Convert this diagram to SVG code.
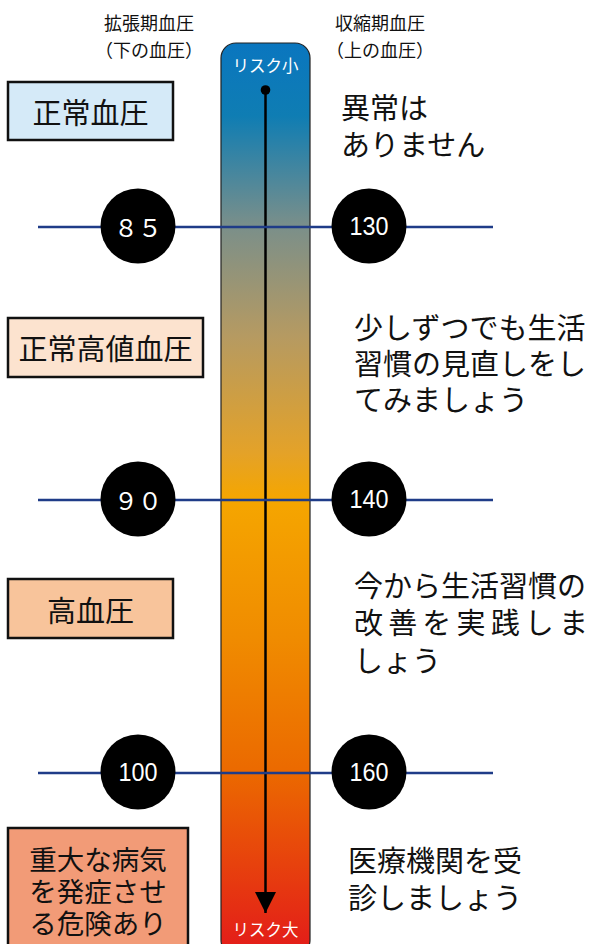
<svg xmlns="http://www.w3.org/2000/svg" width="597" height="944" viewBox="0 0 597 944">
<defs>
<linearGradient id="risk" x1="0" y1="0" x2="0" y2="1" gradientUnits="objectBoundingBox">
<stop offset="0" stop-color="#0a76bf"/>
<stop offset="0.08" stop-color="#0f7db3"/>
<stop offset="0.2" stop-color="#7a8f8a"/>
<stop offset="0.32" stop-color="#b59a62"/>
<stop offset="0.45" stop-color="#e4a228"/>
<stop offset="0.5" stop-color="#f5a600"/>
<stop offset="0.65" stop-color="#f08c00"/>
<stop offset="0.8" stop-color="#eb6900"/>
<stop offset="1" stop-color="#e31a1a"/>
</linearGradient>
<marker id="arrow" viewBox="0 0 10 10" refX="10" refY="5" markerWidth="21" markerHeight="21" markerUnits="userSpaceOnUse" orient="auto">
<path d="M0,0 L10,5 L0,10 z" fill="#000"/>
</marker>
<style>
.jp{font-family:"Noto Sans CJK JP","Noto Sans CJK SC",sans-serif;fill:#111;dominant-baseline:central}
.box{stroke:#111;stroke-width:2.5}
.lvl{stroke:#1f3c88;stroke-width:2.5}
.dot{fill:#000}
.num{font-family:"Liberation Sans",Arial,sans-serif;fill:#fff;font-size:25px;text-anchor:middle;dominant-baseline:central}
.numj{font-family:"Noto Sans CJK JP",sans-serif;fill:#fff;font-size:24px;text-anchor:middle;dominant-baseline:central}
.head{font-size:18px}
.big{font-size:29px}
.mid{font-size:27.5px}
.risk{font-family:"Noto Sans CJK JP",sans-serif;fill:#fff;font-size:16.5px;text-anchor:middle;dominant-baseline:central}
</style>
</defs>

<g id="headers">
<text class="jp head" x="104" y="22">拡張期血圧</text>
<text class="jp head" x="95" y="49">（下の血圧）</text>
<text class="jp head" x="335" y="22">収縮期血圧</text>
<text class="jp head" x="326" y="49">（上の血圧）</text>
</g>

<g id="risk-bar">
<rect x="221" y="43" width="89" height="912" rx="15" ry="15" fill="url(#risk)" stroke="#222" stroke-width="1.2"/>
<text class="risk" x="265.5" y="65">リスク小</text>
<text class="risk" x="265.5" y="929">リスク大</text>
</g>

<g id="connectors">
<line x1="265.5" y1="90" x2="265.5" y2="913" stroke="#000" stroke-width="2.5" marker-end="url(#arrow)"/>
<circle cx="265.5" cy="90" r="4.8" fill="#000"/>
<line class="lvl" x1="38" y1="227" x2="493" y2="227"/>
<line class="lvl" x1="38" y1="500" x2="493" y2="500"/>
<line class="lvl" x1="38" y1="773" x2="493" y2="773"/>
</g>

<g id="normal">
<rect class="box" x="8" y="82" width="165" height="58" fill="#d5eaf8"/>
<text class="jp big" x="90.5" y="111" text-anchor="middle">正常血圧</text>
</g>
<g id="high-normal">
<rect class="box" x="8" y="318" width="195" height="59" fill="#fce3cf"/>
<text class="jp big" x="105.5" y="347" text-anchor="middle">正常高値血圧</text>
</g>
<g id="hypertension">
<rect class="box" x="8" y="579" width="165" height="59" fill="#f8c49b"/>
<text class="jp big" x="90.5" y="608.5" text-anchor="middle">高血圧</text>
</g>
<g id="serious">
<rect class="box" x="8" y="828" width="180" height="120" fill="#f29b77"/>
<text class="jp mid" x="98" y="858" text-anchor="middle">重大な病気</text>
<text class="jp mid" x="98" y="890" text-anchor="middle">を発症させ</text>
<text class="jp mid" x="98" y="922" text-anchor="middle">る危険あり</text>
</g>

<g id="d85"><circle class="dot" cx="138" cy="226" r="37.5"/><text class="numj" x="138" y="226">８５</text></g>
<g id="s130"><circle class="dot" cx="369" cy="226" r="37.5"/><text class="num" x="369" y="226" textLength="39" lengthAdjust="spacingAndGlyphs">130</text></g>
<g id="d90"><circle class="dot" cx="138" cy="499" r="37.5"/><text class="numj" x="138" y="499">９０</text></g>
<g id="s140"><circle class="dot" cx="369" cy="499" r="37.5"/><text class="num" x="369" y="499" textLength="39" lengthAdjust="spacingAndGlyphs">140</text></g>
<g id="d100"><circle class="dot" cx="138" cy="772" r="37.5"/><text class="num" x="138" y="772" textLength="39" lengthAdjust="spacingAndGlyphs">100</text></g>
<g id="s160"><circle class="dot" cx="369" cy="772" r="37.5"/><text class="num" x="369" y="772" textLength="39" lengthAdjust="spacingAndGlyphs">160</text></g>

<g id="msg-normal">
<text class="jp big" x="341" y="106">異常は</text>
<text class="jp big" x="341" y="143">ありません</text>
</g>
<g id="msg-high-normal">
<text class="jp big" x="354" y="326">少しずつでも生活</text>
<text class="jp big" x="354" y="362">習慣の見直しをし</text>
<text class="jp big" x="354" y="398">てみましょう</text>
</g>
<g id="msg-hypertension">
<text class="jp big" x="354" y="584">今から生活習慣の</text>
<text class="jp big" x="354" y="621" textLength="234" lengthAdjust="spacing">改善を実践しま</text>
<text class="jp big" x="354" y="659">しょう</text>
</g>
<g id="msg-serious">
<text class="jp big" x="348" y="859">医療機関を受</text>
<text class="jp big" x="348" y="896">診しましょう</text>
</g>
</svg>
